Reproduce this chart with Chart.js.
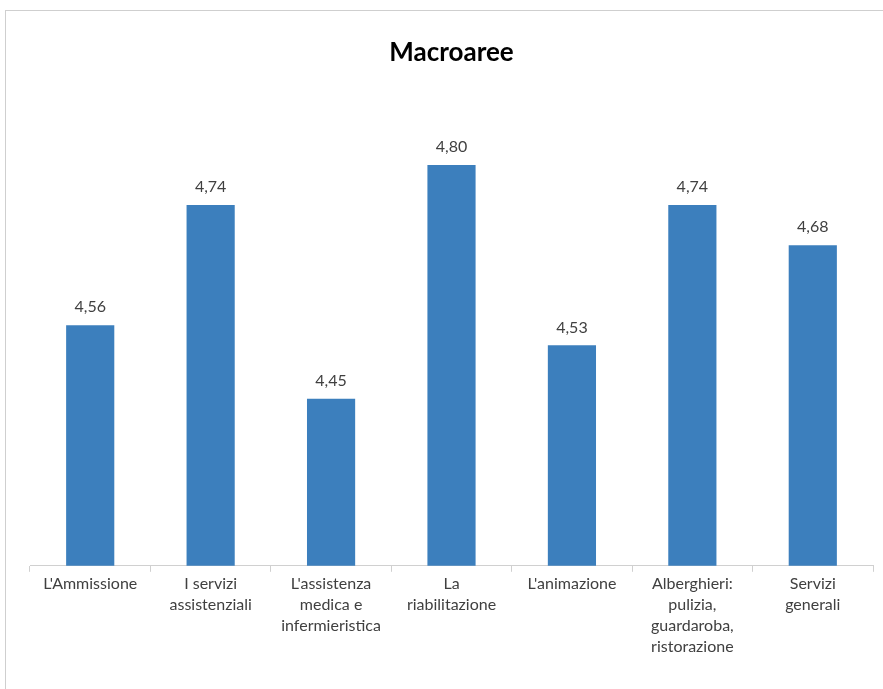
<!DOCTYPE html>
<html>
<head>
<meta charset="utf-8">
<script src="https://cdn.jsdelivr.net/npm/chart.js@4"></script>
<style>
  html, body { margin: 0; padding: 0; background: #fff; }
  #frame {
    position: absolute; left: 5px; top: 10px; width: 877px; height: 678px;
    border-top: 1px solid #cfcfcf; border-left: 1px solid #cfcfcf;
  }
  #wrap { position: absolute; left: 0; top: 0; width: 883px; height: 689px; }
</style>
</head>
<body>
<div id="frame"></div>
<div id="wrap"><canvas id="macroChart"></canvas></div>
<script>
const categories = [
  "L'Ammissione",
  ["I servizi", "assistenziali"],
  ["L'assistenza", "medica e", "infermieristica"],
  ["La", "riabilitazione"],
  "L'animazione",
  ["Alberghieri:", "pulizia,", "guardaroba,", "ristorazione"],
  ["Servizi", "generali"]
];
const scores = [4.56, 4.74, 4.45, 4.80, 4.53, 4.74, 4.68];

const valueLabels = {
  id: "valueLabels",
  afterDatasetsDraw(chart) {
    const ctx = chart.ctx;
    const meta = chart.getDatasetMeta(0);
    ctx.save();
    ctx.font = "16px Lato, 'Open Sans', sans-serif";
    ctx.fillStyle = "#404040";
    ctx.textAlign = "center";
    ctx.textBaseline = "bottom";
    meta.data.forEach((bar, i) => {
      ctx.fillText(scores[i].toFixed(2).replace(".", ","), bar.x, bar.y - 10);
    });
    ctx.restore();
  }
};

document.addEventListener("DOMContentLoaded", function () {
  const ctx = document.getElementById("macroChart").getContext("2d");
  new Chart(ctx, {
    type: "bar",
    data: {
      labels: categories,
      datasets: [{
        label: "Macroaree",
        data: scores,
        backgroundColor: "#3c7fbd",
        categoryPercentage: 1.0,
        barPercentage: 0.4
      }]
    },
    options: {
      responsive: true,
      maintainAspectRatio: false,
      animation: false,
      layout: { padding: { left: 30, right: 10, top: 37, bottom: 30 } },
      plugins: {
        legend: { display: false },
        tooltip: { enabled: false },
        title: {
          display: true,
          text: "Macroaree",
          color: "#000",
          font: { family: "Lato, 'Open Sans', sans-serif", size: 26, weight: "bold" },
          padding: { top: 0, bottom: 30 }
        }
      },
      scales: {
        y: { display: false, min: 4.2, max: 4.9 },
        x: {
          grid: {
            offset: true,
            drawOnChartArea: false,
            tickLength: 6,
            color: "#d0d0d0"
          },
          border: { color: "#d0d0d0" },
          ticks: {
            color: "#404040",
            maxRotation: 0,
            autoSkip: false,
            padding: 2,
            font: { family: "Lato, 'Open Sans', sans-serif", size: 16, lineHeight: 1.3 }
          }
        }
      }
    },
    plugins: [valueLabels]
  });
});
</script>
</body>
</html>
